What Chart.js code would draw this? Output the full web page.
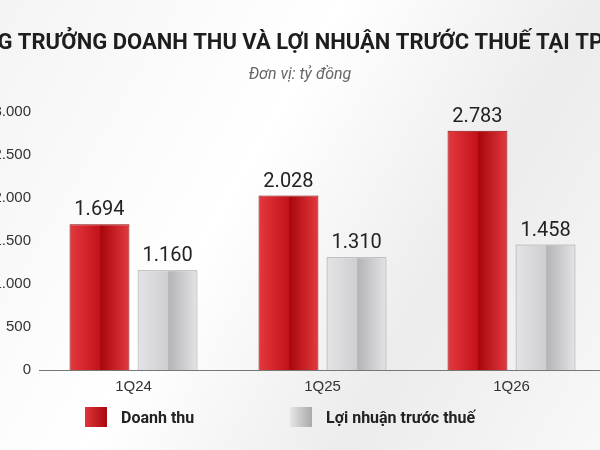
<!DOCTYPE html>
<html>
<head>
<meta charset="utf-8">
<script src="https://cdn.jsdelivr.net/npm/chart.js@4"></script>
<style>
  html, body { margin: 0; padding: 0; }
  body { width: 600px; height: 450px; overflow: hidden; position: relative;
         background: linear-gradient(120deg, #f4f4f4 0%, #ffffff 40%, #ececec 70%, #f8f8f8 100%); font-family: "Roboto", "Noto Sans", sans-serif; }
  #wrap { position: absolute; left: -48px; top: 0; width: 700px; height: 450px; }
  .legend { position: absolute; top: 407px; display: flex; align-items: center; font-size: 16px; font-weight: bold; color: #222; }
  .sw { width: 22px; height: 20px; margin-right: 14px; }
</style>
</head>
<body>
<div id="wrap"><canvas id="c" width="700" height="450"></canvas></div>
<div class="legend" style="left:85px"><div class="sw" style="background:linear-gradient(90deg,#e0353a,#a8080e)"></div>Doanh thu</div>
<div class="legend" style="left:290px"><div class="sw" style="background:linear-gradient(90deg,#e6e6e6,#a9a9ad)"></div>Lợi nhuận trước thuế</div>
<script>
// Data
const categories = ['1Q24', '1Q25', '1Q26'];
const revenue = [1694, 2028, 2783];
const profit = [1160, 1310, 1458];
const yTicks = [0, 500, 1000, 1500, 2000, 2500, 3000];

const fmt = v => v.toLocaleString('de-DE');

// horizontal gradient across the bar, located from the x scale
function grad(ctx, c1, c2, c3) {
    const chart = ctx.chart;
    const xs = chart.scales.x;
    if (!chart.chartArea || !xs || ctx.dataIndex === undefined) return c2;
    const cw = xs.width / categories.length;
    const slot = cw * 0.72 / 2;
    const cx = xs.getPixelForValue(ctx.dataIndex) + (ctx.datasetIndex === 0 ? -slot / 2 : slot / 2);
    if (!isFinite(cx)) return c2;
    const w = slot * 0.88;
    const g = chart.ctx.createLinearGradient(cx - w / 2, 0, cx + w / 2, 0);
    g.addColorStop(0, c1);
    g.addColorStop(0.5, c2);
    g.addColorStop(0.52, c3);
    g.addColorStop(1, c1);
    return g;
}

const headerPlugin = {
    id: 'header',
    afterDraw(chart) {
        const c = chart.ctx;
        c.save();
        c.textAlign = 'center';
        c.fillStyle = '#1e1e1e';
        c.font = 'bold 22px Roboto, sans-serif';
        c.fillText('TĂNG TRƯỞNG DOANH THU VÀ LỢI NHUẬN TRƯỚC THUẾ TẠI TPBANK', 356, 49);
        c.fillStyle = '#666';
        c.font = 'italic 16px Roboto, sans-serif';
        c.fillText('Đơn vị: tỷ đồng', 348, 79);
        // value labels
        c.fillStyle = '#222';
        c.font = '20px Roboto, sans-serif';
        chart.data.datasets.forEach((ds, i) => {
            chart.getDatasetMeta(i).data.forEach((bar, j) => {
                c.fillText(fmt(ds.data[j]), bar.x, bar.y - 9);
            });
        });
        c.restore();
    }
};

new Chart(document.getElementById('c'), {
    type: 'bar',
    data: {
        labels: categories,
        datasets: [{
            label: 'Doanh thu',
            data: revenue,
            backgroundColor: ctx => grad(ctx, '#e33a3f', '#c3121a', '#a8070d'),
            borderColor: '#8a0408',
            borderWidth: 1
        }, {
            label: 'Lợi nhuận trước thuế',
            data: profit,
            backgroundColor: ctx => grad(ctx, '#e4e4e6', '#cfcfd2', '#b4b4b8'),
            borderColor: '#9a9a9e',
            borderWidth: 1
        }]
    },
    plugins: [headerPlugin],
    options: {
        responsive: false,
        animation: false,
        layout: { padding: { top: 112, bottom: 54, right: 46, left: 0 } },
        plugins: { legend: { display: false }, tooltip: { enabled: false } },
        datasets: { bar: { barPercentage: 0.88, categoryPercentage: 0.72 } },
        scales: {
            x: {
                grid: { display: false },
                border: { color: '#777', width: 1 },
                ticks: { color: '#333', font: { size: 15 }, padding: 0 }
            },
            y: {
                min: 0, max: 3000,
                afterFit(s) { s.width = 87; },
                afterBuildTicks(s) { s.ticks = yTicks.map(v => ({ value: v })); },
                grid: { display: false },
                border: { display: false },
                ticks: { color: '#333', font: { size: 15 }, padding: 0, callback: v => fmt(v) }
            }
        }
    }
});
</script>
</body>
</html>
